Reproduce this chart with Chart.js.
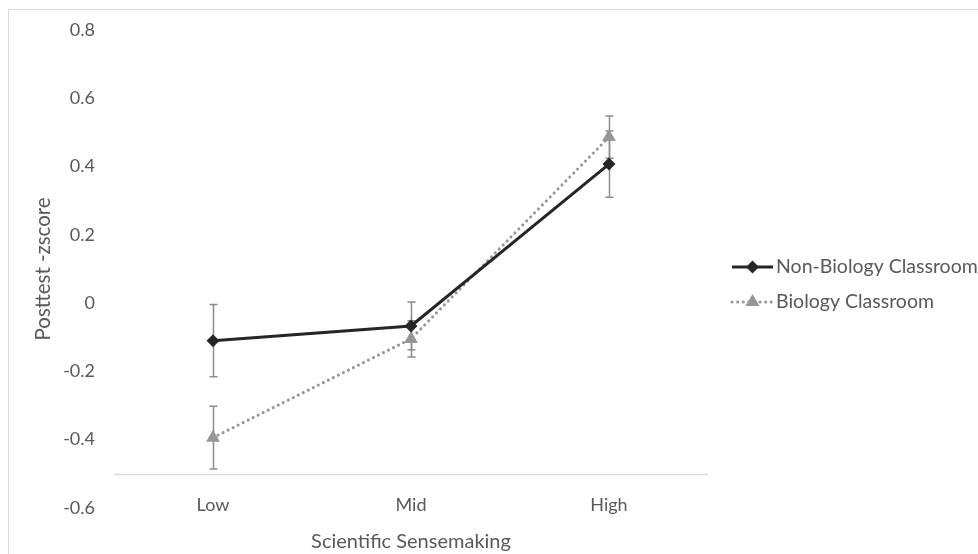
<!DOCTYPE html>
<html>
<head>
<meta charset="utf-8">
<script src="https://cdn.jsdelivr.net/npm/chart.js@4/dist/chart.umd.min.js"></script>
<style>
  html, body { margin: 0; padding: 0; background: #fff; }
  #wrap { width: 978px; height: 554px; }
</style>
</head>
<body>
<div id="wrap"><canvas id="sensemakingChart" width="978" height="554"></canvas></div>
<script>
// data
var categories = ['Low', 'Mid', 'High'];
var nonBioMeans = [-0.11, -0.067, 0.407];
var nonBioErrors = [0.106, 0.07, 0.097];
var bioMeans = [-0.394, -0.105, 0.486];
var bioErrors = [0.092, 0.053, 0.062];
var yTicks = [-0.6, -0.4, -0.2, 0, 0.2, 0.4, 0.6, 0.8];
var axisCrossAt = -0.5;

var textColor = '#595959';
var fontFamily = 'Lato, "Open Sans", sans-serif';

// category axis line, drawn where Excel crosses it (-0.5)
var crossLine = {
    id: 'crossLine',
    beforeDatasetsDraw: function(chart) {
        var ctx = chart.ctx, area = chart.chartArea;
        var y = Math.round(chart.scales.y.getPixelForValue(axisCrossAt)) + 0.5;
        ctx.save();
        ctx.strokeStyle = '#d9d9d9';
        ctx.lineWidth = 1.5;
        ctx.beginPath();
        ctx.moveTo(area.left, y);
        ctx.lineTo(area.right, y);
        ctx.stroke();
        ctx.restore();
    }
};

// category labels sit a little above the bottom of the plot, as in Excel
var categoryLabels = {
    id: 'categoryLabels',
    afterDraw: function(chart) {
        var ctx = chart.ctx, xs = chart.scales.x;
        ctx.save();
        ctx.font = '18px ' + fontFamily;
        ctx.fillStyle = textColor;
        ctx.textAlign = 'center';
        ctx.textBaseline = 'middle';
        categories.forEach(function(c, i) {
            ctx.fillText(c, xs.getPixelForValue(i), 505);
        });
        ctx.restore();
    }
};

// vertical error bars with caps
var errorBars = {
    id: 'errorBars',
    beforeDatasetsDraw: function(chart) {
        var ctx = chart.ctx;
        var xs = chart.scales.x, ys = chart.scales.y;
        var sets = [[nonBioMeans, nonBioErrors], [bioMeans, bioErrors]];
        ctx.save();
        ctx.strokeStyle = '#8c8c8c';
        ctx.lineWidth = 1.5;
        sets.forEach(function(s) {
            s[0].forEach(function(v, i) {
                var x = Math.round(xs.getPixelForValue(i)) + 0.5;
                var top = ys.getPixelForValue(v + s[1][i]);
                var bot = ys.getPixelForValue(v - s[1][i]);
                ctx.beginPath();
                ctx.moveTo(x, top); ctx.lineTo(x, bot);
                ctx.moveTo(x - 4, top); ctx.lineTo(x + 4, top);
                ctx.moveTo(x - 4, bot); ctx.lineTo(x + 4, bot);
                ctx.stroke();
            });
        });
        ctx.restore();
    }
};

// legend on the right, line sample with marker like Excel
var sideLegend = {
    id: 'sideLegend',
    afterDraw: function(chart) {
        var ctx = chart.ctx;
        ctx.save();
        ctx.font = '19.5px ' + fontFamily;
        ctx.fillStyle = textColor;
        ctx.textBaseline = 'middle';
        chart.data.datasets.forEach(function(ds, i) {
            var y = 267 + i * 35;
            var x0 = 732, x1 = 773, xm = (x0 + x1) / 2;
            ctx.save();
            ctx.strokeStyle = ds.borderColor;
            ctx.lineWidth = 3;
            ctx.lineCap = ds.borderCapStyle || 'butt';
            ctx.setLineDash(ds.borderDash || []);
            ctx.beginPath();
            ctx.moveTo(x0, y); ctx.lineTo(x1, y);
            ctx.stroke();
            ctx.restore();
            ctx.save();
            ctx.fillStyle = ds.pointBackgroundColor;
            ctx.beginPath();
            var r = ds.pointRadius;
            if (ds.pointStyle === 'rectRot') {
                ctx.moveTo(xm, y - r); ctx.lineTo(xm + r, y);
                ctx.lineTo(xm, y + r); ctx.lineTo(xm - r, y);
            } else {
                ctx.moveTo(xm, y - r); ctx.lineTo(xm + r * 0.87, y + r * 0.5);
                ctx.lineTo(xm - r * 0.87, y + r * 0.5);
            }
            ctx.closePath();
            ctx.fill();
            ctx.restore();
            ctx.fillText(ds.label, x1 + 3, y);
        });
        ctx.restore();
    }
};

// light frame round the chart
var frame = {
    id: 'frame',
    beforeDraw: function(chart) {
        var ctx = chart.ctx;
        ctx.save();
        ctx.strokeStyle = '#d9d9d9';
        ctx.lineWidth = 1;
        ctx.strokeRect(8.5, 9.5, 1000, 600);
        ctx.restore();
    }
};

var ctx = document.getElementById('sensemakingChart').getContext('2d');
var chart = new Chart(ctx, {
    type: 'line',
    data: {
        labels: categories,
        datasets: [{
            label: 'Non-Biology Classroom',
            data: nonBioMeans,
            borderColor: '#262626',
            borderWidth: 3,
            pointStyle: 'rectRot',
            pointRadius: 6.5,
            pointBackgroundColor: '#262626',
            pointBorderWidth: 0,
            tension: 0
        }, {
            label: 'Biology Classroom',
            data: bioMeans,
            borderColor: '#969696',
            borderWidth: 3,
            borderDash: [0.1, 5.5],
            borderCapStyle: 'round',
            pointStyle: 'triangle',
            pointRadius: 8,
            pointBackgroundColor: '#969696',
            pointBorderWidth: 0,
            tension: 0
        }]
    },
    options: {
        responsive: false,
        animation: false,
        layout: { padding: { left: 31, right: 270, top: 29, bottom: 0 } },
        plugins: {
            legend: { display: false },
            tooltip: { enabled: false }
        },
        scales: {
            x: {
                offset: true,
                grid: { display: false, drawTicks: false },
                border: { display: false },
                ticks: { display: false },
                title: { display: true, text: 'Scientific Sensemaking', color: textColor,
                         font: { family: fontFamily, size: 20 }, padding: 0 },
                afterFit: function(s) { s.height = 46; }
            },
            y: {
                min: yTicks[0],
                max: yTicks[yTicks.length - 1],
                grid: { display: false, drawTicks: false },
                border: { display: false },
                afterBuildTicks: function(s) { s.ticks = yTicks.map(function(v) { return { value: v }; }); },
                ticks: { color: textColor, font: { family: fontFamily, size: 18 }, padding: 19,
                         callback: function(v) { return String(Math.round(v * 10) / 10); } },
                title: { display: true, text: 'Posttest -zscore', color: textColor,
                         font: { family: fontFamily, size: 20.5 }, padding: 0 },
                afterFit: function(s) { s.width = 83; }
            }
        }
    },
    plugins: [frame, crossLine, errorBars, categoryLabels, sideLegend]
});
</script>
</body>
</html>
